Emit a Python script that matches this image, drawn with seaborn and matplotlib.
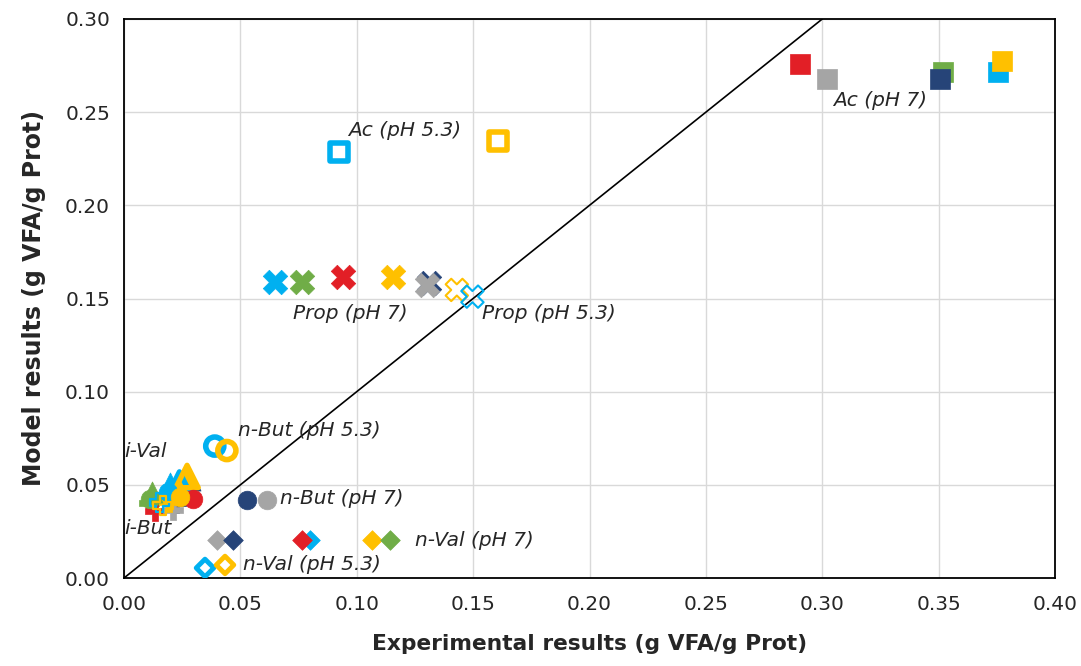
import matplotlib
matplotlib.use("Agg")
import matplotlib.pyplot as plt
import seaborn as sns

sns.set_theme(style="white")
plt.rcParams['font.family'] = ['DejaVu Sans']

BLUE = "#00B0F0"
GREEN = "#70AD47"
RED = "#E21F26"
YELLOW = "#FFC000"
GRAY = "#A5A5A5"
NAVY = "#264478"

# ---- data (experimental x, model y) ----
# Acetic, pH 7 (filled squares)
ac7_colors = [RED, GRAY, GREEN, NAVY, BLUE, YELLOW]
ac7_x = [0.2903, 0.302, 0.352, 0.3505, 0.3753, 0.3773]
ac7_y = [0.276, 0.268, 0.2716, 0.268, 0.2716, 0.2775]
# Acetic, pH 5.3 (hollow squares)
ac53_colors = [BLUE, YELLOW]
ac53_x = [0.0924, 0.1606]
ac53_y = [0.2287, 0.2346]

# Propionic, pH 7 (filled X)
pr7_colors = [BLUE, GREEN, RED, YELLOW, NAVY, GRAY]
pr7_x = [0.0648, 0.0765, 0.0941, 0.1155, 0.1310, 0.1302]
pr7_y = [0.1589, 0.1589, 0.1618, 0.1616, 0.1582, 0.1573]
# Propionic, pH 5.3 (hollow X)
pr53_colors = [YELLOW, BLUE]
pr53_x = [0.1430, 0.1497]
pr53_y = [0.1546, 0.151]

# iso-Butyric, pH 7 (filled plus)
ib7_colors = [BLUE, NAVY, GREEN, RED, GRAY, YELLOW]
ib7_x = [0.0177, 0.0223, 0.0106, 0.0134, 0.0210, 0.0192]
ib7_y = [0.044, 0.040, 0.040, 0.0362, 0.0365, 0.041]
# iso-Butyric, pH 5.3 (hollow plus)
ib53_colors = [BLUE, YELLOW]
ib53_x = [0.0152, 0.0168]
ib53_y = [0.0405, 0.039]

# iso-Valeric, pH 7 (filled triangles)
iv7_colors = [GREEN, RED, GRAY, BLUE, NAVY, YELLOW]
iv7_x = [0.0121, 0.0273, 0.0223, 0.0197, 0.0283, 0.0271]
iv7_y = [0.046, 0.046, 0.048, 0.051, 0.0526, 0.0537]
# iso-Valeric, pH 5.3 (hollow triangles)
iv53_colors = [BLUE, YELLOW]
iv53_x = [0.0238, 0.0271]
iv53_y = [0.051, 0.0545]

# n-Butyric, pH 7 (filled circles)
nb7_colors = [NAVY, GRAY, BLUE, RED, GREEN, YELLOW]
nb7_x = [0.0528, 0.0614, 0.0187, 0.0298, 0.0111, 0.0241]
nb7_y = [0.0419, 0.0419, 0.046, 0.0425, 0.0425, 0.0433]
# n-Butyric, pH 5.3 (hollow circles)
nb53_colors = [BLUE, YELLOW]
nb53_x = [0.0390, 0.0442]
nb53_y = [0.0708, 0.0684]

# n-Valeric, pH 7 (filled diamonds)
nv7_colors = [GRAY, NAVY, BLUE, RED, YELLOW, GREEN]
nv7_x = [0.0400, 0.0468, 0.0799, 0.0765, 0.1065, 0.1143]
nv7_y = [0.0204, 0.0204, 0.0204, 0.0204, 0.0204, 0.0204]
# n-Valeric, pH 5.3 (hollow diamonds)
nv53_colors = [BLUE, YELLOW]
nv53_x = [0.0348, 0.0434]
nv53_y = [0.0054, 0.0070]

# annotation labels
lab_text = ["Ac (pH 5.3)", "Ac (pH 7)", "Prop (pH 7)", "Prop (pH 5.3)",
            "n-But (pH 5.3)", "i-Val", "n-But (pH 7)", "i-But",
            "n-Val (pH 7)", "n-Val (pH 5.3)"]
lab_x = [0.0962, 0.3046, 0.0726, 0.1538, 0.0490, 0.0003, 0.0670, 0.0003, 0.1250, 0.0511]
lab_y = [0.2400, 0.2560, 0.1422, 0.1422, 0.0789, 0.0680, 0.0424, 0.0268, 0.0199, 0.0070]

xticks = [0.00, 0.05, 0.10, 0.15, 0.20, 0.25, 0.30, 0.35, 0.40]
yticks = [0.00, 0.05, 0.10, 0.15, 0.20, 0.25, 0.30]

TXT = "#262626"

fig = plt.figure(figsize=(10.81, 6.66), dpi=100)
ax = fig.add_axes([124 / 1081, 1 - 578 / 666, (1055 - 124) / 1081, (578 - 19) / 666])

# 1:1 line
sns.lineplot(x=[0, 0.30], y=[0, 0.30], color="black", linewidth=1.2, ax=ax, zorder=2)


def filled(xs, ys, cols, marker, s, z=3):
    for xv, yv, c in zip(xs, ys, cols):
        sns.scatterplot(x=[xv], y=[yv], color=c, marker=marker, s=s,
                        edgecolor=c, linewidth=0.5, ax=ax, zorder=z, legend=False)


def hollow(xs, ys, cols, marker, s, lw, z=4):
    for xv, yv, c in zip(xs, ys, cols):
        sns.scatterplot(x=[xv], y=[yv], color="none", marker=marker, s=s,
                        edgecolor=c, linewidth=lw, ax=ax, zorder=z, legend=False)


filled(ac7_x, ac7_y, ac7_colors, "s", 215)
hollow(ac53_x, ac53_y, ac53_colors, "s", 175, 4.0)

filled(pr7_x, pr7_y, pr7_colors, "X", 310)
hollow(pr53_x, pr53_y, pr53_colors, "X", 260, 1.5)

filled(ib7_x, ib7_y, ib7_colors, "P", 200, z=3)
filled(iv7_x, iv7_y, iv7_colors, "^", 230, z=3.2)
hollow(iv53_x, iv53_y, iv53_colors, "^", 260, 3.8, z=3.3)
filled(nb7_x, nb7_y, nb7_colors, "o", 180, z=3.4)
hollow(ib53_x, ib53_y, ib53_colors, "P", 200, 1.6, z=3.5)
hollow(nb53_x, nb53_y, nb53_colors, "o", 170, 4.0)

filled(nv7_x, nv7_y, nv7_colors, "D", 100)
hollow(nv53_x, nv53_y, nv53_colors, "D", 80, 3.5)

for t, xv, yv in zip(lab_text, lab_x, lab_y):
    ax.text(xv, yv, t, fontsize=14.5, fontstyle="italic", ha="left", va="center",
            color=TXT, zorder=6)

ax.set_xlim(0, 0.40)
ax.set_ylim(0, 0.30)
ax.set_xticks(xticks)
ax.set_yticks(yticks)
ax.set_xticklabels([f"{v:.2f}" for v in xticks], fontsize=14.5)
ax.set_yticklabels([f"{v:.2f}" for v in yticks], fontsize=14.5)
ax.tick_params(axis="x", length=0, pad=12, colors=TXT)
ax.tick_params(axis="y", length=0, pad=10, colors=TXT)
ax.grid(True, color="#D9D9D9", linewidth=1.0)
ax.set_axisbelow(True)
for sp in ax.spines.values():
    sp.set_color("black")
    sp.set_linewidth(1.3)

ax.set_xlabel("Experimental results (g VFA/g Prot)", fontsize=15.7, fontweight="bold",
              color=TXT, labelpad=15)
ax.set_ylabel("Model results (g VFA/g Prot)", fontsize=17, fontweight="bold",
              color=TXT, labelpad=14)

fig.savefig("out.png", dpi=100)
